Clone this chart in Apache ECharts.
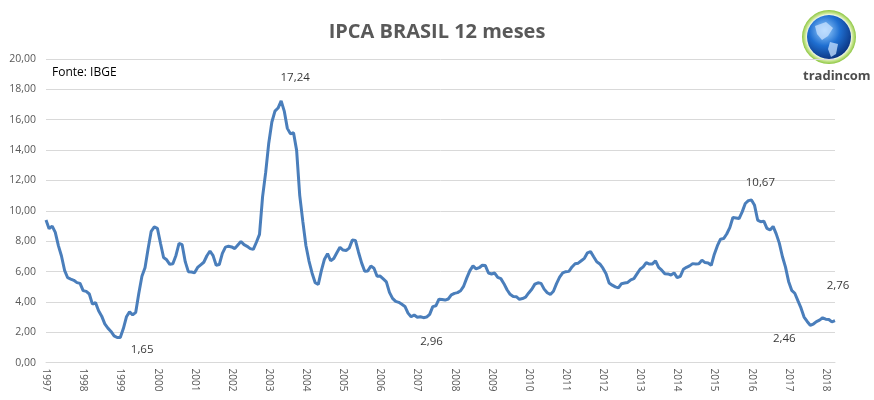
<!DOCTYPE html>
<html>
<head>
<meta charset="utf-8">
<script src="https://cdn.jsdelivr.net/npm/echarts@6/dist/echarts.min.js"></script>
<style>
  html, body { margin: 0; padding: 0; background: #fff; }
  #chart { width: 874px; height: 400px; }
</style>
</head>
<body>
<div id="chart"></div>
<script>
// IPCA acumulado em 12 meses, jan/1997 a abr/2018 (fonte: IBGE)
const years = [1997, 1998, 1999, 2000, 2001, 2002, 2003, 2004, 2005, 2006, 2007,
  2008, 2009, 2010, 2011, 2012, 2013, 2014, 2015, 2016, 2017, 2018];
const monthsIn2018 = 4;

const ipca1997to2002 = [
  9.39, 8.82, 8.99, 8.58, 7.71, 7.02, 6.08, 5.59, 5.50, 5.42, 5.27, 5.22,
  4.74, 4.69, 4.52, 3.85, 3.95, 3.41, 3.06, 2.55, 2.27, 2.05, 1.76, 1.65,
  1.65, 2.24, 3.02, 3.34, 3.14, 3.31, 4.57, 5.69, 6.25, 7.50, 8.65, 8.94,
  8.85, 7.86, 6.92, 6.77, 6.47, 6.51, 7.06, 7.85, 7.77, 6.65, 5.99, 5.97,
  5.92, 6.27, 6.44, 6.61, 7.04, 7.35, 7.05, 6.41, 6.46, 7.19, 7.61, 7.67,
  7.62, 7.51, 7.75, 7.98, 7.77, 7.66, 7.51, 7.46, 7.93, 8.45, 10.93, 12.53,
];
const ipca2003to2009 = [
  14.47, 15.85, 16.57, 16.77, 17.24, 16.57, 15.43, 15.07, 15.14, 13.98, 11.02, 9.30,
  7.71, 6.69, 5.89, 5.26, 5.15, 6.06, 6.81, 7.18, 6.71, 6.86, 7.24, 7.60,
  7.41, 7.39, 7.54, 8.07, 8.05, 7.27, 6.57, 6.02, 6.04, 6.36, 6.22, 5.69,
  5.70, 5.51, 5.32, 4.63, 4.23, 4.03, 3.97, 3.84, 3.70, 3.26, 3.02, 3.14,
  2.99, 3.02, 2.96, 3.00, 3.18, 3.69, 3.74, 4.18, 4.15, 4.12, 4.19, 4.46,
  4.56, 4.61, 4.73, 5.04, 5.58, 6.06, 6.37, 6.17, 6.25, 6.41, 6.39, 5.90,
  5.84, 5.90, 5.61, 5.53, 5.20, 4.80, 4.50, 4.36, 4.34, 4.17, 4.22, 4.31,
];
const ipca2010to2018 = [
  4.59, 4.83, 5.17, 5.26, 5.22, 4.84, 4.60, 4.49, 4.70, 5.20, 5.63, 5.91,
  5.99, 6.01, 6.30, 6.51, 6.55, 6.71, 6.87, 7.23, 7.31, 6.97, 6.64, 6.50,
  6.22, 5.85, 5.24, 5.10, 4.99, 4.92, 5.20, 5.24, 5.28, 5.45, 5.53, 5.84,
  6.15, 6.31, 6.59, 6.49, 6.50, 6.70, 6.27, 6.09, 5.86, 5.84, 5.77, 5.91,
  5.59, 5.68, 6.15, 6.28, 6.37, 6.52, 6.50, 6.51, 6.75, 6.59, 6.56, 6.41,
  7.14, 7.70, 8.13, 8.17, 8.47, 8.89, 9.56, 9.53, 9.49, 9.93, 10.48, 10.67,
  10.71, 10.36, 9.39, 9.28, 9.32, 8.84, 8.74, 8.97, 8.48, 7.87, 6.99, 6.29,
  5.35, 4.76, 4.57, 4.08, 3.60, 3.00, 2.71, 2.46, 2.54, 2.70, 2.80, 2.95,
  2.86, 2.84, 2.68, 2.76,
];
const ipca = ipca1997to2002.concat(ipca2003to2009, ipca2010to2018);

// meses destacados com rótulo: [ano-mês]
const labelledMonths = ['1998-12', '2003-05', '2007-03', '2015-12', '2017-08', '2018-04'];
const yTicks = [0, 2, 4, 6, 8, 10, 12, 14, 16, 18, 20];

const categories = [];
years.forEach((year) => {
  const count = year === 2018 ? monthsIn2018 : 12;
  for (let m = 1; m <= count; m++) {
    categories.push(`${year}-${String(m).padStart(2, '0')}`);
  }
});

// deslocamento dos rótulos em px, como posicionados no original
const labelOffsets = {
  '1998-12': [25, 12],
  '2003-05': [14, -23],
  '2007-03': [8, 24],
  '2015-12': [12, -18],
  '2017-08': [-26, 13],
  '2018-04': [3, -35],
};

const brazil = (v) => v.toFixed(2).replace('.', ',');
const chart = echarts.init(document.getElementById('chart'));
const FONT = '"Open Sans", "Noto Sans", sans-serif';

chart.setOption({
  animation: false,
  title: {
    text: 'IPCA BRASIL 12 meses',
    left: 432,
    top: 17,
    textAlign: 'center',
    textStyle: { fontFamily: FONT, fontSize: 20, fontWeight: 'bold', color: '#595959' },
  },
  grid: { left: 46, right: 39, top: 59, bottom: 37.4 },
  xAxis: {
    type: 'category',
    data: categories,
    boundaryGap: false,
    axisLine: { lineStyle: { color: '#d9d9d9', width: 1 } },
    axisTick: { show: false },
    axisLabel: {
      interval: 11,
      rotate: -90,
      margin: 6,
      color: '#595959',
      fontFamily: FONT,
      fontSize: 10,
      formatter: (v) => v.slice(0, 4),
    },
  },
  yAxis: {
    type: 'value',
    min: yTicks[0],
    max: yTicks[yTicks.length - 1],
    interval: 2,
    axisLine: { show: false },
    axisTick: { show: false },
    axisLabel: {
      margin: 10,
      color: '#595959',
      fontFamily: FONT,
      fontSize: 10.5,
      formatter: (v) => brazil(v),
    },
    splitLine: { lineStyle: { color: '#d9d9d9', width: 1 } },
  },
  series: [
    {
      type: 'line',
      data: ipca,
      showSymbol: false,
      smooth: false,
      lineStyle: { color: '#4a7ebb', width: 3 },
      itemStyle: { color: '#4a7ebb' },
    },
    {
      type: 'scatter',
      symbolSize: 1,
      itemStyle: { color: 'rgba(0,0,0,0)' },
      silent: true,
      z: 5,
      data: labelledMonths.map((key) => {
        const i = categories.indexOf(key);
        return {
          value: [i, ipca[i]],
          label: {
            show: true,
            position: 'inside',
            offset: labelOffsets[key],
            formatter: () => brazil(ipca[i]),
            color: '#000',
            fontFamily: FONT,
            fontSize: 11.5,
          },
        };
      }),
    },
  ],
  graphic: [
    {
      type: 'text',
      left: 52,
      top: 67,
      style: { text: 'Fonte: IBGE', fill: '#000', font: `12px ${FONT}` },
    },
    {
      type: 'circle',
      shape: { cx: 829, cy: 37, r: 27 },
      style: {
        fill: {
          type: 'radial', x: 0.5, y: 0.5, r: 0.5,
          colorStops: [
            { offset: 0.8, color: '#ffffff' },
            { offset: 0.88, color: '#cde89a' },
            { offset: 1, color: '#8cc63f' },
          ],
        },
      },
    },
    {
      type: 'circle',
      shape: { cx: 829, cy: 37, r: 22 },
      style: {
        fill: {
          type: 'radial', x: 0.4, y: 0.35, r: 0.7,
          colorStops: [
            { offset: 0, color: '#9fd3ff' },
            { offset: 0.5, color: '#1f6fd1' },
            { offset: 1, color: '#0a2f7a' },
          ],
        },
      },
    },
    {
      type: 'polygon',
      shape: { points: [[815, 26], [826, 22], [833, 28], [828, 36], [822, 40], [817, 34]] },
      style: { fill: 'rgba(200,225,255,0.75)' },
    },
    {
      type: 'polygon',
      shape: { points: [[830, 42], [838, 44], [836, 54], [831, 57], [828, 49]] },
      style: { fill: 'rgba(200,225,255,0.75)' },
    },
    {
      type: 'text',
      left: 803,
      top: 70,
      style: { text: 'tradincom', fill: '#4d4d4d', font: `bold 13px ${FONT}` },
    },
  ],
});
</script>
</body>
</html>
